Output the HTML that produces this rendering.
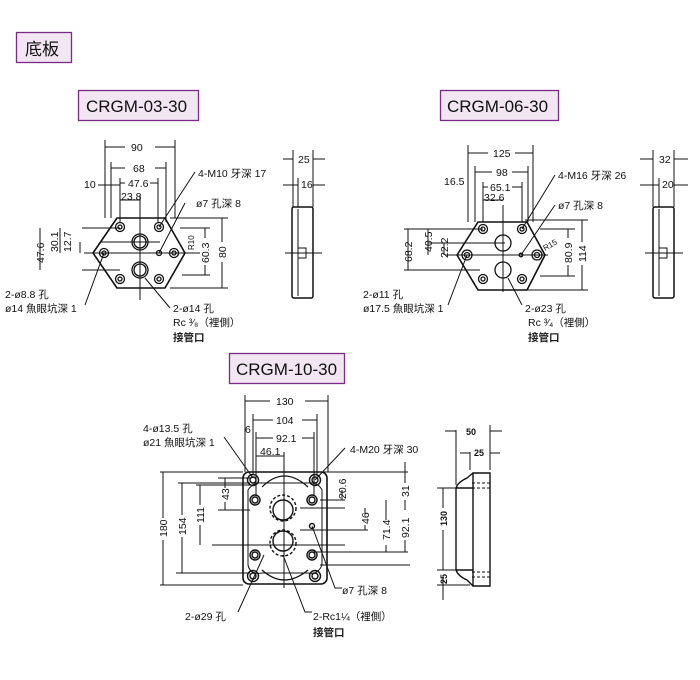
<!DOCTYPE html>
<html><head><meta charset="utf-8"><style>
body{margin:0;background:#fff;width:700px;height:680px;overflow:hidden}
svg{display:block}
text{font-family:"Liberation Sans","Noto Sans CJK TC",sans-serif;fill:#111}
.s{font-size:10.5px}
.box{fill:#f1e6f1;stroke:#7b2a86;stroke-width:1.3}
.t{font-size:17px}
.k{fill:#222;font-weight:bold}
</style></head><body>
<svg width="700" height="680" viewBox="0 0 700 680" stroke="#111" fill="none" stroke-width="1">
<rect class="box" x="16.5" y="32.5" width="55" height="30"/>
<text x="25" y="55" class="t" stroke="none">底板</text>
<rect class="box" x="78.5" y="90.5" width="120" height="30"/>
<text x="86" y="112" class="t" stroke="none">CRGM-03-30</text>
<rect class="box" x="440.5" y="90.5" width="118" height="30"/>
<text x="447" y="112" class="t" stroke="none">CRGM-06-30</text>
<rect class="box" x="229.5" y="353.5" width="115" height="30"/>
<text x="236" y="375" class="t" stroke="none">CRGM-10-30</text>

<!-- CRGM-03 -->
<g stroke-width="1">
<path d="M117 218 L165 218 L185 253 L165 288 L117 288 L93 253 Z" stroke-width="1.6" stroke-linejoin="round"/>
<g stroke-width="1.3">
<circle cx="120" cy="227" r="4.5"/><circle cx="120" cy="227" r="2"/>
<circle cx="159" cy="227" r="4.5"/><circle cx="159" cy="227" r="2"/>
<circle cx="120" cy="279" r="4.5"/><circle cx="120" cy="279" r="2"/>
<circle cx="159" cy="279" r="4.5"/><circle cx="159" cy="279" r="2"/>
<circle cx="104" cy="253" r="4.5"/><circle cx="104" cy="253" r="2"/>
<circle cx="174" cy="253" r="4.5"/><circle cx="174" cy="253" r="2"/>
<circle cx="140" cy="242" r="8"/><circle cx="140" cy="242" r="6"/>
<circle cx="140" cy="270" r="8"/><circle cx="140" cy="270" r="6"/>
<circle cx="159" cy="253" r="2.5"/>
</g>
<path d="M105 140V218M175 140V218M111 162V218M166 162V222M120 178V222M158 178V222M140 195V300M84 253H200M82 228H120M100 242H160M82 270H120M180 228H210M182 275H210M170 218H228M170 288H228"/>
<path d="M105 147H125M155 147H175M111 168H125M155 168H166M120 183H125M150 183H158M98 185H120M120 200H140"/>
<text x="131" y="151" class="s" stroke="none">90</text>
<text x="133" y="172" class="s" stroke="none">68</text>
<text x="128" y="187" class="s" stroke="none">47.6</text>
<text x="121" y="200" class="s" stroke="none">23.8</text>
<text x="84" y="188" class="s" stroke="none">10</text>
<path d="M40 228V270M60 228V253M80 242V253M205 228V238M205 265V275M222 218V242M222 262V288"/>
<text class="s" stroke="none" transform="translate(44,263) rotate(-90)">47.6</text>
<text class="s" stroke="none" transform="translate(58,252) rotate(-90)">30.1</text>
<text class="s" stroke="none" transform="translate(71,252) rotate(-90)">12.7</text>
<text class="s" stroke="none" transform="translate(209,263) rotate(-90)">60.3</text>
<text class="s" stroke="none" transform="translate(226,258) rotate(-90)">80</text>
<text style="font-size:8px" stroke="none" transform="translate(194,250) rotate(-90)">R10</text>
<path d="M159 227L195 172M159 253L185 203M104 253L85 305M145 278L170 308"/>
<text x="198" y="177" class="s" stroke="none">4-M10 牙深 17</text>
<text x="196" y="207" class="s" stroke="none">ø7 孔深 8</text>
<text x="5" y="298" class="s" stroke="none">2-ø8.8 孔</text>
<text x="5" y="312" class="s" stroke="none">ø14 魚眼坑深 1</text>
<text x="173" y="312" class="s" stroke="none">2-ø14 孔</text>
<text x="173" y="326" class="s" stroke="none">Rc ³⁄₈（裡側）</text>
<text x="173" y="341" class="s k" stroke="none">接管口</text>
<rect x="292" y="207" width="21" height="91" rx="2" stroke-width="1.5"/>
<path d="M298 209V296M293 150V207M313 150V207M298 178V207M283 159H293M313 159H325M283 185H298M313 185H325M285 253H322M298 248H306V258H298"/>
<text x="298" y="163" class="s" stroke="none">25</text>
<text x="301" y="188" class="s" stroke="none">16</text>
</g>

<!-- CRGM-06 -->
<g>
<path d="M478 222 L527 222 L545 255 L527 290 L478 290 L457 255 Z" stroke-width="1.6" stroke-linejoin="round"/>
<g stroke-width="1.3">
<circle cx="483" cy="229" r="4.5"/><circle cx="483" cy="229" r="2"/>
<circle cx="522" cy="229" r="4.5"/><circle cx="522" cy="229" r="2"/>
<circle cx="483" cy="279" r="4.5"/><circle cx="483" cy="279" r="2"/>
<circle cx="522" cy="279" r="4.5"/><circle cx="522" cy="279" r="2"/>
<circle cx="467" cy="255" r="5"/><circle cx="467" cy="255" r="2.5"/>
<circle cx="537" cy="255" r="5"/><circle cx="537" cy="255" r="2.5"/>
<circle cx="503" cy="243" r="8"/><circle cx="503" cy="270" r="8"/>
<circle cx="521" cy="255" r="1.8"/>
</g>
<path d="M468 145V222M533 145V222M475 166V222M528 166V222M483 182V222M522 182V222M503 205V292M445 255H548M404 229H483M428 243H505M404 270H480M540 229H575M540 276H575M525 220H588M525 290H588"/>
<path d="M468 153H488M515 153H533M475 172H492M512 172H528M483 187H488M512 187H522M483 200H503"/>
<text x="493" y="157" class="s" stroke="none">125</text>
<text x="496" y="176" class="s" stroke="none">98</text>
<text x="490" y="191" class="s" stroke="none">65.1</text>
<text x="484" y="201" class="s" stroke="none">32.6</text>
<text x="444" y="185" class="s" stroke="none">16.5</text>
<path d="M408 229V270M428 229V255M444 243V255M568 229V238M568 265V276M582 220V242M582 265V290"/>
<text class="s" stroke="none" transform="translate(412,262) rotate(-90)">68.2</text>
<text class="s" stroke="none" transform="translate(432,252) rotate(-90)">40.5</text>
<text class="s" stroke="none" transform="translate(448,258) rotate(-90)">22.2</text>
<text class="s" stroke="none" transform="translate(572,263) rotate(-90)">80.9</text>
<text class="s" stroke="none" transform="translate(586,262) rotate(-90)">114</text>
<text style="font-size:8px" stroke="none" transform="translate(545,251) rotate(-30)">R15</text>
<path d="M522 229L555 175M521 255L555 205M467 255L448 305M508 278L522 305"/>
<text x="558" y="179" class="s" stroke="none">4-M16 牙深 26</text>
<text x="558" y="209" class="s" stroke="none">ø7 孔深 8</text>
<text x="363" y="298" class="s" stroke="none">2-ø11 孔</text>
<text x="363" y="312" class="s" stroke="none">ø17.5 魚眼坑深 1</text>
<text x="525" y="312" class="s" stroke="none">2-ø23 孔</text>
<text x="528" y="326" class="s" stroke="none">Rc ³⁄₄（裡側）</text>
<text x="528" y="341" class="s k" stroke="none">接管口</text>
<rect x="653" y="207" width="21" height="91" rx="2" stroke-width="1.5"/>
<path d="M659 209V296M653 150V207M674 150V207M659 178V207M640 159H653M674 159H688M640 185H659M674 185H688M645 253H683M659 248H667V258H659"/>
<text x="659" y="163" class="s" stroke="none">32</text>
<text x="662" y="188" class="s" stroke="none">20</text>
</g>

<!-- CRGM-10 -->
<g>
<rect x="243" y="472" width="84" height="112" rx="6" stroke-width="1.6"/>
<path d="M248 490Q253 482 262 483L308 483Q318 482 322 490L322 565Q318 575 308 573L262 573Q250 575 248 565Z" stroke-width="1"/>
<path d="M262 487Q284 465 308 487M262 570Q284 590 308 570" stroke-width="1.2"/>
<g stroke-width="1.4">
<circle cx="253" cy="480" r="5.5"/><circle cx="253" cy="480" r="3"/>
<circle cx="315" cy="480" r="5.5"/><circle cx="315" cy="480" r="3"/>
<circle cx="253" cy="576" r="5.5"/><circle cx="253" cy="576" r="3"/>
<circle cx="315" cy="576" r="5.5"/><circle cx="315" cy="576" r="3"/>
<circle cx="255" cy="500" r="5"/><circle cx="255" cy="500" r="3"/>
<circle cx="312" cy="500" r="5"/><circle cx="312" cy="500" r="3"/>
<circle cx="255" cy="555" r="5"/><circle cx="255" cy="555" r="3"/>
<circle cx="312" cy="555" r="5"/><circle cx="312" cy="555" r="3"/>
<circle cx="283" cy="508" r="13" stroke-dasharray="3 2"/><circle cx="283" cy="510" r="10"/>
<circle cx="283" cy="543" r="13" stroke-dasharray="3 2"/><circle cx="283" cy="541" r="10"/>
<circle cx="312" cy="526" r="2.5"/>
</g>
<path d="M245 395V472M328 395V472M253 414V475M317 414V475M256 432V495M314 432V495M284 452V588M160 472H243M178 483H250M196 485H250M218 478H250M218 510H250M176 573H250M160 585H243M212 545H345M320 472H408M320 500H345M300 508H345M300 530H368M312 552H408M320 565H410"/>
<path d="M245 401H270M305 401H328M253 420H273M302 420H317M256 438H273M302 438H314M256 456H284"/>
<text x="276" y="405" class="s" stroke="none">130</text>
<text x="276" y="424" class="s" stroke="none">104</text>
<text x="276" y="442" class="s" stroke="none">92.1</text>
<text x="260" y="455" class="s" stroke="none">46.1</text>
<text x="245" y="433" class="s" stroke="none">6</text>
<path d="M163 472V518M163 540V585M182 483V515M182 537V573M200 485V505M200 525V545M225 478V488M225 502V510M342 490V500M405 462V483M365 508V515M365 525V530M386 500V520M386 545V552M405 500V510M405 540V552"/>
<text class="s" stroke="none" transform="translate(167,537) rotate(-90)">180</text>
<text class="s" stroke="none" transform="translate(186,535) rotate(-90)">154</text>
<text class="s" stroke="none" transform="translate(204,523) rotate(-90)">111</text>
<text class="s" stroke="none" transform="translate(229,500) rotate(-90)">43</text>
<text class="s" stroke="none" transform="translate(346,499) rotate(-90)">20.6</text>
<text class="s" stroke="none" transform="translate(409,497) rotate(-90)">31</text>
<text class="s" stroke="none" transform="translate(369,524) rotate(-90)">46</text>
<text class="s" stroke="none" transform="translate(390,540) rotate(-90)">71.4</text>
<text class="s" stroke="none" transform="translate(409,538) rotate(-90)">92.1</text>
<path d="M253 478L224 437M315 480L345 448M312 526L335 588H342M264 555L238 612M283 555L305 612H312"/>
<text x="143" y="432" class="s" stroke="none">4-ø13.5 孔</text>
<text x="143" y="446" class="s" stroke="none">ø21 魚眼坑深 1</text>
<text x="350" y="453" class="s" stroke="none">4-M20 牙深 30</text>
<text x="342" y="594" class="s" stroke="none">ø7 孔深 8</text>
<text x="185" y="620" class="s" stroke="none">2-ø29 孔</text>
<text x="313" y="620" class="s" stroke="none">2-Rc1¼（裡側）</text>
<text x="313" y="636" class="s k" stroke="none">接管口</text>
<path d="M473 473H490V586H473ZM473 473L467 478Q458 482 456 488V570Q458 576 467 580L473 586M456 488H473M456 570H473" stroke-width="1.4"/>
<path d="M472 483H492M472 488H492M472 572H492M472 577H492" stroke-dasharray="3 2"/>
<path d="M456 430V485M490 425V470M470 452V470M445 431H456M490 431H502M460 453H470M490 453H500M437 488H456M437 570H456M437 585H470M443 488V508M443 530V570M443 575V600"/>
<text x="466" y="435" style="font-size:9px;font-weight:bold" stroke="none">50</text>
<text x="474" y="456" style="font-size:9px;font-weight:bold" stroke="none">25</text>
<text style="font-size:9px;font-weight:bold" stroke="none" transform="translate(447,526) rotate(-90)">130</text>
<text style="font-size:9px;font-weight:bold" stroke="none" transform="translate(447,584) rotate(-90)">25</text>
</g>
</svg>
</body></html>
